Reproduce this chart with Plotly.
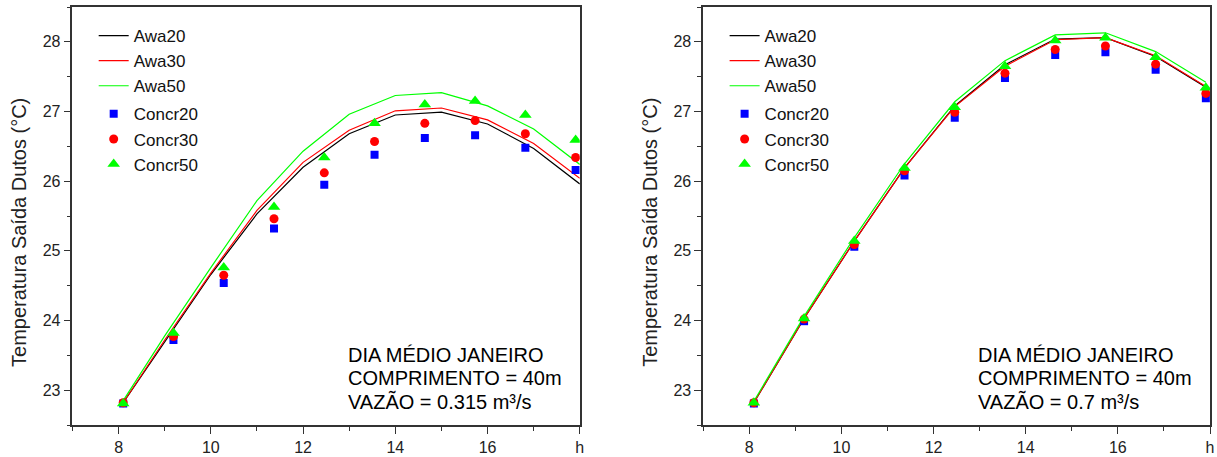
import plotly.graph_objects as go
from plotly.subplots import make_subplots

# ---------------- data ----------------
hours_conc = [8.10, 9.19, 10.28, 11.37, 12.46, 13.55, 14.64, 15.73, 16.82, 17.91]
hours_awa_left = [8.1, 9, 10, 11, 12, 13, 14, 15, 16, 17, 18]
hours_awa_right = [8.10, 9.19, 10.28, 11.37, 12.46, 13.55, 14.64, 15.73, 16.82, 17.91]

# left panel (VAZÃO = 0.315 m3/s)
left_awa20 = [22.82, 23.70, 24.66, 25.53, 26.20, 26.68, 26.95, 26.99, 26.82, 26.47, 25.96]
left_awa30 = [22.82, 23.72, 24.68, 25.58, 26.27, 26.73, 27.01, 27.05, 26.88, 26.54, 26.04]
left_awa50 = [22.85, 23.78, 24.76, 25.72, 26.43, 26.96, 27.23, 27.27, 27.08, 26.75, 26.24]
left_concr20 = [22.81, 23.72, 24.54, 25.32, 25.95, 26.38, 26.62, 26.66, 26.48, 26.16]
left_concr30 = [22.82, 23.77, 24.65, 25.46, 26.12, 26.57, 26.83, 26.87, 26.68, 26.34]
left_concr50 = [22.81, 23.82, 24.76, 25.63, 26.34, 26.83, 27.10, 27.15, 26.95, 26.59]

# right panel (VAZÃO = 0.7 m3/s)
right_awa20 = [22.82, 24.03, 25.14, 26.19, 27.08, 27.67, 28.04, 28.06, 27.79, 27.35]
right_awa30 = [22.82, 24.03, 25.14, 26.19, 27.07, 27.65, 28.03, 28.06, 27.80, 27.36]
right_awa50 = [22.84, 24.06, 25.19, 26.25, 27.14, 27.73, 28.10, 28.13, 27.86, 27.42]
right_concr20 = [22.81, 23.99, 25.06, 26.08, 26.91, 27.48, 27.81, 27.85, 27.60, 27.19]
right_concr30 = [22.82, 24.02, 25.09, 26.15, 26.99, 27.55, 27.89, 27.94, 27.68, 27.26]
right_concr50 = [22.82, 24.03, 25.14, 26.19, 27.06, 27.65, 28.02, 28.06, 27.78, 27.34]

x_tickvals = [8, 10, 12, 14, 16, 18]
x_ticktext = ["8", "10", "12", "14", "16", "h"]
y_tickvals = [23, 24, 25, 26, 27, 28]

y_title = "Temperatura Saída Dutos (°C)"
info_left = ["DIA MÉDIO JANEIRO", "COMPRIMENTO = 40m", "VAZÃO = 0.315 m³/s"]
info_right = ["DIA MÉDIO JANEIRO", "COMPRIMENTO = 40m", "VAZÃO = 0.7 m³/s"]

# ---------------- figure ----------------
W, H = 1217, 457
MT, MB = 7, 32
PH = H - MT - MB

fig = make_subplots(rows=1, cols=2)

FONT = "Liberation Sans, Arial, sans-serif"

def add_panel(col, awa_x, a20, a30, a50, c20, c30, c50, legend_name):
    for name, ys, color in [("Awa20", a20, "#000000"), ("Awa30", a30, "#ff0000"), ("Awa50", a50, "#00ff00")]:
        fig.add_trace(go.Scatter(x=awa_x, y=ys, mode="lines", name=name,
                                 line=dict(color=color, width=1.2),
                                 legend=legend_name, legendgroup=legend_name + "l"),
                      row=1, col=col)
    for name, ys, color, sym, sz in [("Concr20", c20, "#0000ff", "square", 8),
                                     ("Concr30", c30, "#ff0000", "circle", 9),
                                     ("Concr50", c50, "#00ff00", "triangle-up", 11)]:
        fig.add_trace(go.Scatter(x=hours_conc, y=ys, mode="markers", name=name,
                                 marker=dict(color=color, symbol=sym, size=sz, line=dict(width=0)),
                                 legend=legend_name, legendgroup=legend_name + "m"),
                      row=1, col=col)

add_panel(1, hours_awa_left, left_awa20, left_awa30, left_awa50,
          left_concr20, left_concr30, left_concr50, "legend")
add_panel(2, hours_awa_right, right_awa20, right_awa30, right_awa50,
          right_concr20, right_concr30, right_concr50, "legend2")

def px2x(px):
    return px / W

def px2y(py):
    return 1 - (py - MT) / PH

dom1 = [72.7 / W, 581.7 / W]
dom2 = [705.5 / W, 1214 / W]

axis_common = dict(showline=True, linecolor="#333333", linewidth=1.5, mirror=True,
                   ticks="outside", tickcolor="#333333", tickwidth=1.2, ticklen=7,
                   showgrid=False, zeroline=False,
                   tickfont=dict(family=FONT, size=16, color="#222222"))

for i, dom in [(1, dom1), (2, dom2)]:
    sfx = "" if i == 1 else str(i)
    fig.update_layout(**{
        "xaxis" + sfx: dict(domain=dom, range=[7, 18], tickmode="array",
                            tickvals=x_tickvals, ticktext=x_ticktext,
                            minor=dict(tickvals=[7, 9, 11, 13, 15, 17], ticks="outside",
                                       ticklen=4, tickcolor="#333333", tickwidth=1.2),
                            **axis_common),
        "yaxis" + sfx: dict(range=[22.5, 28.5], tickmode="array", tickvals=y_tickvals,
                            minor=dict(tickvals=[22.5, 23.5, 24.5, 25.5, 26.5, 27.5, 28.5],
                                       ticks="outside", ticklen=4, tickcolor="#333333",
                                       tickwidth=1.2),
                            **axis_common),
    })

legend_common = dict(font=dict(family=FONT, size=17, color="#111111"),
                     bgcolor="rgba(0,0,0,0)", borderwidth=0,
                     traceorder="grouped", tracegroupgap=3,
                     itemwidth=30, xanchor="left", yanchor="top", itemsizing="trace")
fig.update_layout(
    legend=dict(x=px2x(94), y=px2y(18), **legend_common),
    legend2=dict(x=px2x(727), y=px2y(18), **legend_common),
)

annotations = []
for xc in [19, 652]:
    annotations.append(dict(text=y_title, xref="paper", yref="paper",
                            x=px2x(xc), y=px2y(232), textangle=-90,
                            showarrow=False, xanchor="center", yanchor="middle",
                            font=dict(family=FONT, size=20, color="#222222")))
for xl, lines in [(346.7, info_left), (979.3, info_right)]:
    for k, (txt, yc) in enumerate(zip(lines, [355, 378.3, 401.7])):
        annotations.append(dict(text=txt, xref="paper", yref="paper",
                                x=px2x(xl), y=px2y(yc), showarrow=False,
                                xanchor="left", yanchor="middle",
                                font=dict(family=FONT, size=20, color="#000000")))

fig.update_layout(
    width=W, height=H,
    margin=dict(l=0, r=0, t=MT, b=MB),
    paper_bgcolor="white", plot_bgcolor="white",
    annotations=annotations,
    showlegend=True,
)

fig.write_html("out.html")
